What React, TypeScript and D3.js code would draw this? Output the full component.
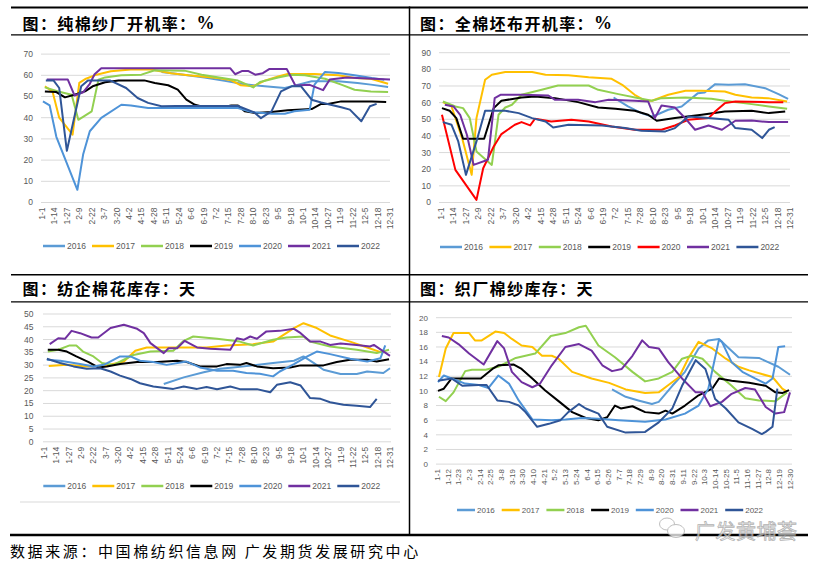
import React from "react";
import * as d3 from "d3";

type Pt = [number, number];

// legend / series names
const years = ["2016", "2017", "2018", "2019", "2020", "2021", "2022"];
const yearColors = ["#5B9BD5", "#FFC000", "#92D050", "#000000", "#4E93D8", "#7030A0", "#2F5597"];
const clothColors = ["#5B9BD5", "#FFC000", "#92D050", "#000000", "#FF0000", "#7030A0", "#2F5597"];

// x tick labels (every 13 days / every 11 days)
const ticks13 = ["1-1", "1-14", "1-27", "2-9", "2-22", "3-7", "3-20", "4-2", "4-15", "4-28", "5-11", "5-24", "6-6", "6-19", "7-2", "7-15", "7-28", "8-10", "8-23", "9-5", "9-18", "10-1", "10-14", "10-27", "11-9", "11-22", "12-5", "12-18", "12-31"];
const ticks11 = ["1-1", "1-12", "1-23", "2-3", "2-14", "2-25", "3-8", "3-19", "3-30", "4-10", "4-21", "5-2", "5-13", "5-24", "6-4", "6-15", "6-26", "7-7", "7-18", "7-29", "8-9", "8-20", "8-31", "9-11", "9-22", "10-3", "10-14", "10-25", "11-5", "11-16", "11-27", "12-8", "12-19", "12-30"];

// 纯棉纱厂开机率 [day of year, %]
const yarnRun2016: Pt[] = [[125,61.6],[142,60.6],[170,59],[191,57.4],[212,55.8],[233,54.8],[254,54],[268,55.6],[282,57.2],[310,57.2],[330,56.4],[344,55.6],[362,54.5]];
const yarnRun2017: Pt[] = [[3,54.8],[11,52.4],[18,40],[25,36],[32,32],[39,56.4],[46,58.4],[57,60.3],[72,61.9],[93,62.7],[114,62.7],[135,61],[153,60],[184,58.7],[198,57.6],[208,55.3],[221,54.8],[233,57.5],[247,59.5],[257,60.6],[285,60.6],[310,60],[327,58.7],[344,58.4],[362,56]];
const yarnRun2018: Pt[] = [[3,54.3],[17,52.4],[31,50.8],[38,39],[52,43],[59,57.9],[66,59],[83,60],[104,60.3],[118,62.4],[149,62.2],[167,60.3],[205,57.5],[221,54.3],[228,56.8],[247,59],[261,60.3],[275,60],[296,58.4],[313,55.6],[327,53.2],[344,52.4],[362,52.1]];
const yarnRun2019: Pt[] = [[3,52.4],[15,52.1],[24,49.6],[34,50.8],[45,52.4],[53,54.8],[66,56.7],[80,57.6],[107,57.6],[118,56.4],[132,55.3],[142,53.2],[151,48.5],[160,46.1],[170,45],[188,44.9],[198,45.8],[205,45.8],[212,43],[223,42.2],[240,42.7],[257,43.5],[282,44.1],[292,46.5],[299,46.5],[313,47.7],[345,47.7],[360,47.4]];
const yarnRun2020: Pt[] = [[1,47.7],[8,45.8],[15,31],[37,6],[43,22.6],[50,33.6],[62,39.9],[83,46.1],[93,45.8],[111,44.6],[205,44.6],[219,42.7],[240,41.9],[254,41.9],[264,43],[280,43.8],[285,55.6],[296,61.6],[310,61.1],[327,60],[345,58.7],[358,57.9]];
const yarnRun2021: Pt[] = [[5,58],[27,58],[34,50.5],[43,52],[50,56],[55,60.5],[62,63.3],[197,63.3],[202,60.5],[209,62],[216,62],[223,60.3],[231,61],[238,63],[256,63],[265,55.2],[280,55.5],[294,53],[301,58],[319,59],[340,58.5],[364,58]];
const yarnRun2022: Pt[] = [[4,57.6],[12,57.6],[18,54],[26,24.4],[41,54.8],[48,57.6],[71,57.6],[88,54],[100,49.3],[111,47],[125,45.4],[140,45.5],[205,45.5],[222,42.5],[229,39.8],[240,43],[250,52.4],[261,54.8],[271,54.8],[282,48.5],[292,47.2],[303,46],[313,44.9],[322,43.8],[334,38.3],[343,45.4],[350,46.5]];

// 全棉坯布开机率
const clothRun2016: Pt[] = [[180,63.1],[195,57.7],[209,53.7],[220,51.7],[225,52.7],[237,55.7],[251,57.7],[268,65.7],[275,66.1],[286,71.1],[300,70.7],[317,71.1],[338,68.7],[352,65.1],[362,62.3]];
const clothRun2017: Pt[] = [[2,60.3],[11,57.7],[22,38.7],[32,16.6],[37,50.7],[46,73.7],[53,76.8],[67,78.4],[95,78.4],[109,76.8],[133,76.4],[154,75.2],[178,74.3],[189,70.7],[202,64.7],[213,61.1],[220,61.1],[237,64.7],[255,67.1],[272,67.1],[296,66.7],[307,64.7],[324,63.1],[341,62.7],[361,60.7]];
const clothRun2018: Pt[] = [[2,60.7],[15,57.7],[23,56.7],[30,50.7],[37,30.7],[53,22.6],[60,52.7],[67,57.1],[74,58.7],[84,64.7],[105,67.7],[122,70.3],[154,70.3],[164,67.7],[185,65.1],[209,62.3],[220,61.1],[230,62.7],[255,63.1],[282,62.3],[296,61.1],[324,59.1],[342,57.7],[361,56.3]];
const clothRun2019: Pt[] = [[1,56.7],[9,55.1],[16,50.7],[23,38.3],[45,38.3],[55,56.7],[63,61.1],[84,63.1],[98,63.7],[119,62.7],[143,60.3],[164,57.1],[182,56.3],[202,55.1],[216,52.7],[225,49.1],[244,50.7],[272,52.7],[296,54.7],[324,55.1],[342,53.7],[359,54.7]];
const clothRun2020: Pt[] = [[1,52.7],[15,19.6],[37,1.6],[44,20.6],[55,33.7],[63,41.1],[77,46.7],[84,48.3],[93,46.3],[98,50.3],[115,48.7],[136,49.7],[154,48.7],[178,45.7],[202,43.7],[230,43.7],[244,46.3],[258,49.7],[279,50.7],[286,54.7],[296,59.7],[307,60.7],[342,60.3],[357,60.3]];
const clothRun2021: Pt[] = [[4,58.7],[13,57.7],[20,52.7],[27,40.7],[34,22.6],[49,25.7],[56,62.7],[62,64.7],[84,64.7],[112,64.3],[119,61.7],[143,61.7],[161,60.3],[175,61.7],[202,61.1],[216,60.7],[223,50.7],[230,58.3],[244,57.1],[253,51.7],[265,43.7],[279,46.3],[293,43.7],[307,49.1],[324,49.3],[342,48.3],[362,48.3]];
const clothRun2022: Pt[] = [[2,48.3],[11,46.7],[18,36.7],[26,16.6],[37,36.7],[46,55.1],[67,55.1],[81,53.7],[95,50.7],[109,48.7],[117,45.1],[133,46.7],[168,46.3],[192,44.7],[209,43.1],[234,42.7],[244,44.7],[258,51.7],[279,50.7],[300,49.7],[307,44.7],[324,43.7],[335,38.7],[342,43.7],[348,45.3]];

// 纺企棉花库存 (天)
const cottonStock2016: Pt[] = [[126,22.6],[147,25.2],[168,27.2],[185,28.6],[199,29.1],[220,29.9],[241,30.8],[263,31.7],[273,33.4],[284,30.8],[294,28.2],[312,26.5],[329,26.5],[340,27.5],[357,26.9],[364,28.8]];
const cottonStock2017: Pt[] = [[5,29.7],[24,30.1],[45,29.5],[66,29.9],[84,31.4],[96,35.6],[108,36.9],[136,36.9],[171,36.9],[192,37.7],[220,38.2],[241,39.2],[263,44.5],[273,46.4],[287,44.5],[301,41.6],[322,39.2],[340,36.9],[357,34.7]];
const cottonStock2018: Pt[] = [[4,35.3],[15,36],[27,37.7],[34,37.7],[41,35.3],[52,33.4],[61,30.8],[73,30.1],[84,32.1],[94,34],[112,35.3],[136,35.6],[147,39.5],[157,41.2],[182,40.3],[206,39.2],[220,37.7],[241,39.9],[255,40.8],[273,41.2],[280,39.2],[301,37.3],[329,36],[350,34.7],[363,36]];
const cottonStock2019: Pt[] = [[4,36],[15,36],[24,35.3],[34,33.4],[47,31.2],[57,29.1],[66,29.5],[80,30.4],[98,31.2],[119,31.2],[140,31.7],[150,31.2],[164,29.5],[182,29.5],[192,30.4],[206,30.1],[213,30.8],[224,29.5],[241,28.8],[259,29.1],[270,29.9],[294,29.9],[308,31.2],[322,32.1],[340,32.1],[350,31.4],[363,32.3]];
const cottonStock2020: Pt[] = [[3,32.1],[17,31.7],[38,30.4],[52,29.5],[63,30.1],[80,33.4],[91,33.4],[101,31.7],[115,31.2],[129,30.1],[150,31.4],[164,29.1],[182,27.8],[199,27.8],[213,26.9],[227,26.6],[241,25.6],[248,27.5],[263,30.4],[277,33.4],[287,35.3],[301,34.3],[322,32.5],[340,31.4],[354,32.7],[359,37.7]];
const cottonStock2021: Pt[] = [[6,38.2],[15,40.5],[22,40.3],[29,43.4],[38,42.5],[50,40.8],[57,40.8],[70,44.5],[84,45.8],[98,44.2],[105,42.5],[112,38.6],[126,34.7],[131,36.6],[140,36.6],[148,39.5],[161,36.9],[175,36.4],[196,36],[203,40.5],[210,39.9],[217,41.2],[224,40.3],[234,43.2],[248,43.4],[263,44.2],[270,42.5],[280,39.2],[291,39.2],[301,37.9],[312,38.5],[329,37.9],[343,37.3],[347,37.9],[364,33.6]];
const cottonStock2022: Pt[] = [[3,32.5],[17,30.8],[31,29.5],[45,28.6],[59,28.8],[70,27.5],[80,25.9],[91,24.6],[101,22.9],[115,21.6],[136,20.7],[147,21.6],[161,20.7],[171,21.4],[182,20.6],[196,21.6],[206,20.6],[224,20.6],[238,19.4],[245,22.3],[259,23.3],[270,22],[280,17.1],[291,16.8],[301,15.5],[315,14.5],[329,14.1],[343,13.6],[350,16.8]];

// 织厂棉纱库存 (天)
const yarnStock2016: Pt[] = [[180,10.2],[194,9.2],[207,8.7],[221,8.2],[228,8.5],[242,10.7],[255,12.6],[269,15.8],[279,16.9],[290,17.1],[297,16.2],[310,14.6],[331,14.5],[341,13.9],[351,13.3],[363,12.2]];
const yarnStock2017: Pt[] = [[2,11.9],[9,15.8],[17,17.9],[33,17.9],[39,16.9],[46,16.9],[60,18.1],[69,17.9],[77,17.1],[87,16.2],[98,16],[108,14.8],[118,14.8],[125,14.4],[139,12.6],[159,11.7],[177,11.1],[194,10.2],[214,9.7],[228,9.8],[238,10.8],[249,11.9],[259,14.6],[269,16.7],[283,15.8],[297,14.4],[310,13.3],[321,12.8],[334,12.3],[345,11.9],[355,10.3],[360,9.9]];
const yarnStock2018: Pt[] = [[2,9.2],[9,8.6],[17,9.8],[29,12.7],[36,12.9],[50,12.9],[63,13.3],[81,14.5],[101,15.1],[117,17.5],[132,17.9],[146,18.7],[153,18.9],[166,16.2],[183,14.6],[201,12.6],[214,11.3],[228,11.7],[242,12.6],[252,14.4],[262,14.8],[273,14.4],[286,12.6],[303,10.7],[317,9],[331,8.7],[348,8.6],[360,9.8]];
const yarnStock2019: Pt[] = [[1,10],[7,10.3],[15,11.7],[45,11.7],[57,13],[63,13.5],[79,13.6],[87,13],[98,11.7],[111,10.1],[125,8.6],[139,7.1],[153,6.3],[166,6],[175,6.4],[183,8],[189,7.6],[201,7.9],[214,7.1],[228,6.9],[235,7.3],[242,6.9],[255,8],[269,9.4],[283,10.3],[290,11.7],[303,11.4],[321,11.1],[338,10.7],[348,9.8],[355,9.7],[362,10.1]];
const yarnStock2020: Pt[] = [[1,11.2],[7,12.1],[15,11.7],[29,11],[43,10.8],[53,10.4],[63,12.1],[74,11],[84,8.7],[98,6.1],[118,6],[132,6.1],[149,6.3],[166,6.2],[187,6],[214,5.8],[235,6.1],[255,6.9],[269,8],[279,10.3],[290,17],[293,16.7],[303,13.9],[314,12.6],[327,11.7],[338,11],[345,11.7],[351,16],[358,16.1]];
const yarnStock2021: Pt[] = [[5,17.5],[12,17.3],[22,16.4],[33,15.1],[48,13.6],[62,16.8],[69,15.8],[77,12.6],[87,11.2],[98,10.5],[106,11],[118,13.5],[132,16],[146,16.4],[159,15.5],[170,13.5],[180,12.7],[190,13],[201,14.8],[211,16.9],[218,16],[228,15.8],[238,13.9],[252,11.7],[266,9.8],[273,9.8],[281,7.9],[293,8.5],[303,9.6],[317,10.4],[327,10.2],[338,7.8],[348,6.9],[357,7.1],[363,9.8]];
const yarnStock2022: Pt[] = [[1,11.4],[15,11.7],[26,10.7],[43,10.8],[51,10.8],[62,8.7],[74,8.5],[84,8],[91,7.1],[103,5.1],[115,5.5],[127,6],[135,7.1],[146,8.2],[153,7.6],[166,6.9],[175,5.1],[194,4.3],[214,4.4],[228,5.7],[242,7.6],[252,10.7],[266,14.2],[276,13],[286,8.9],[297,7.6],[310,5.7],[324,4.8],[334,4.1],[338,4.4],[345,5.1],[350,10.3]];

interface PanelCfg {
    title: string;
    unit: string;
    unitSerif: boolean;
    titleX: number;
    titleY: number;
    x0: number;
    x1: number;
    step: number;
    labels: string[];
    gx0: number;
    gx1: number;
    yMax: number;
    yStep: number;
    yBottom: number;
    yTop: number;
    yLabelX: number;
    tickFont: number;
    legendX: number;
    legendY: number;
    legendGap: number;
    legendLine: number;
    legendFont: number;
    series: Pt[][];
    colors: string[];
}

const panels: PanelCfg[] = [
    {
        title: "图：纯棉纱厂开机率：", unit: "%", unitSerif: true, titleX: 22.5, titleY: 23,
        x0: 42, x1: 390, step: 13, labels: ticks13, gx0: 41, gx1: 390,
        yMax: 70, yStep: 10, yBottom: 202.5, yTop: 54.1, yLabelX: 33, tickFont: 8.5,
        legendX: 43, legendY: 246, legendGap: 49, legendLine: 22, legendFont: 8.5,
        series: [yarnRun2016, yarnRun2017, yarnRun2018, yarnRun2019, yarnRun2020, yarnRun2021, yarnRun2022],
        colors: yearColors,
    },
    {
        title: "图：全棉坯布开机率：", unit: "%", unitSerif: true, titleX: 420, titleY: 23,
        x0: 441, x1: 790, step: 13, labels: ticks13, gx0: 439, gx1: 790,
        yMax: 90, yStep: 10, yBottom: 202.5, yTop: 52.7, yLabelX: 431, tickFont: 8.5,
        legendX: 440, legendY: 247, legendGap: 49.4, legendLine: 22, legendFont: 8.5,
        series: [clothRun2016, clothRun2017, clothRun2018, clothRun2019, clothRun2020, clothRun2021, clothRun2022],
        colors: clothColors,
    },
    {
        title: "图：纺企棉花库存：", unit: "天", unitSerif: false, titleX: 22.5, titleY: 288,
        x0: 44, x1: 390, step: 13, labels: ticks13, gx0: 43, gx1: 391,
        yMax: 50, yStep: 5, yBottom: 441.8, yTop: 314, yLabelX: 33.5, tickFont: 8.5,
        legendX: 43.3, legendY: 486, legendGap: 49, legendLine: 22, legendFont: 8.5,
        series: [cottonStock2016, cottonStock2017, cottonStock2018, cottonStock2019, cottonStock2020, cottonStock2021, cottonStock2022],
        colors: yearColors,
    },
    {
        title: "图：织厂棉纱库存：", unit: "天", unitSerif: false, titleX: 420, titleY: 288,
        x0: 437, x1: 790, step: 11, labels: ticks11, gx0: 436, gx1: 792,
        yMax: 20, yStep: 2, yBottom: 464.1, yTop: 317.7, yLabelX: 428, tickFont: 8,
        legendX: 457, legendY: 510, legendGap: 44.7, legendLine: 18, legendFont: 8,
        series: [yarnStock2016, yarnStock2017, yarnStock2018, yarnStock2019, yarnStock2020, yarnStock2021, yarnStock2022],
        colors: yearColors,
    },
];

const sans = "'Liberation Sans', Arial, sans-serif";
const cjk = "'Noto Sans CJK SC', sans-serif";

const Panel: React.FC<{ c: PanelCfg }> = ({ c }) => {
    const xMax = c.step * (c.labels.length - 1);
    const x = d3.scaleLinear().domain([0, xMax]).range([c.x0, c.x1]);
    const y = d3.scaleLinear().domain([0, c.yMax]).range([c.yBottom, c.yTop]);
    const yTicks = d3.range(0, c.yMax + c.yStep / 2, c.yStep);
    const line = d3
        .line<Pt>()
        .x(d => x(d[0]))
        .y(d => y(d[1]));

    return (
        <g>
            {/* title */}
            <text x={c.titleX} y={c.titleY} dominantBaseline="central" fontFamily={cjk} fontWeight={700} fontSize={16} letterSpacing={1.4} fill="#000">
                {c.title}
                <tspan fontFamily={c.unitSerif ? "'Liberation Serif', serif" : cjk} fontSize={c.unitSerif ? 18 : 16}>
                    {c.unit}
                </tspan>
            </text>

            {/* gridlines + y labels */}
            {yTicks.map(t => (
                <g key={t}>
                    <line x1={c.gx0} x2={c.gx1} y1={y(t)} y2={y(t)} stroke="#D9D9D9" strokeWidth={1} />
                    <text x={c.yLabelX} y={y(t)} dy="0.35em" textAnchor="end" fontFamily={sans} fontSize={c.tickFont} fill="#595959">
                        {t}
                    </text>
                </g>
            ))}

            {/* x labels */}
            {c.labels.map((l, i) => (
                <text
                    key={l}
                    transform={`translate(${x(i * c.step)},${c.yBottom + 5}) rotate(-90)`}
                    dy="0.35em"
                    textAnchor="end"
                    fontFamily={sans}
                    fontSize={c.tickFont}
                    fill="#595959"
                >
                    {l}
                </text>
            ))}

            {/* series */}
            {c.series.map((s, i) => (
                <path key={years[i]} d={line(s) || ""} fill="none" stroke={c.colors[i]} strokeWidth={2} strokeLinejoin="round" />
            ))}

            {/* legend */}
            {years.map((yr, i) => {
                const lx = c.legendX + i * c.legendGap;
                return (
                    <g key={yr}>
                        <line x1={lx} x2={lx + c.legendLine} y1={c.legendY} y2={c.legendY} stroke={c.colors[i]} strokeWidth={2.5} />
                        <text x={lx + c.legendLine + 2} y={c.legendY} dy="0.35em" fontFamily={sans} fontSize={c.legendFont} fill="#595959">
                            {yr}
                        </text>
                    </g>
                );
            })}
        </g>
    );
};

const App: React.FC = () => {
    return (
        <svg width={820} height={565} style={{ position: "absolute", left: 0, top: 0, background: "#fff" }}>
            <rect width={820} height={565} fill="#fff" />
            {/* table frame */}
            <line x1={11} x2={808} y1={7.5} y2={7.5} stroke="#000" strokeWidth={2} />
            <line x1={11} x2={808} y1={34.8} y2={34.8} stroke="#000" strokeWidth={1.3} />
            <line x1={11} x2={808} y1={274.8} y2={274.8} stroke="#000" strokeWidth={1.4} />
            <line x1={11} x2={808} y1={301.8} y2={301.8} stroke="#000" strokeWidth={1.3} />
            <line x1={10} x2={808} y1={535} y2={535} stroke="#000" strokeWidth={2.3} />
            <line x1={409.5} x2={409.5} y1={6.5} y2={536} stroke="#000" strokeWidth={1.5} />
            <line x1={20} x2={400} y1={502} y2={502} stroke="#D9D9D9" strokeWidth={1} />

            {panels.map((p, i) => (
                <Panel key={i} c={p} />
            ))}

            {/* watermark */}
            <g opacity={0.75}>
                <ellipse cx={667} cy={524} rx={7.5} ry={6} fill="#fff" stroke="#aaa" strokeWidth={1} />
                <ellipse cx={676} cy={531} rx={8.5} ry={6.5} fill="#fff" stroke="#aaa" strokeWidth={1} />
                <text x={695} y={530} dominantBaseline="central" fontFamily={cjk} fontSize={20} letterSpacing={0.5} fill="#f2f2f2" stroke="#9a9a9a" strokeWidth={0.8}>
                    广发黄埔荟
                </text>
            </g>

            {/* source */}
            <text x={10} y={550} dominantBaseline="central" fontFamily={cjk} fontSize={15} letterSpacing={2.6} fill="#000">
                数据来源：中国棉纺织信息网 广发期货发展研究中心
            </text>
        </svg>
    );
};

export default App;
